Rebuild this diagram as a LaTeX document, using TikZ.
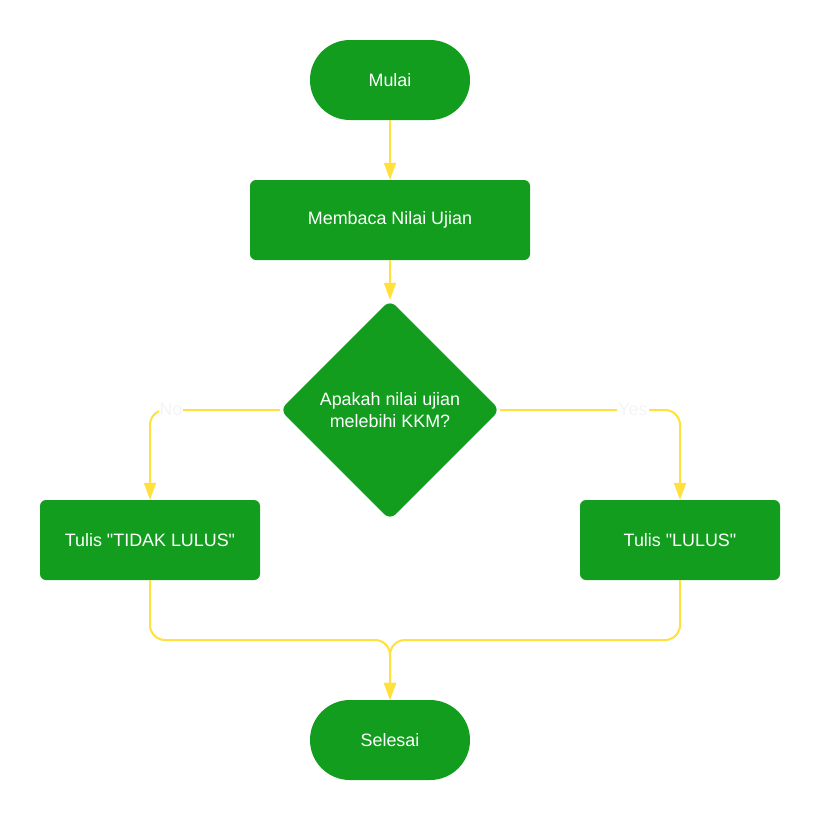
\documentclass[tikz,border=0pt]{standalone}
\usepackage{fontspec}
\setmainfont{Liberation Sans}[Ligatures=TeXOff]
\usetikzlibrary{shapes.geometric,arrows.meta}
\definecolor{fgreen}{HTML}{129D1E}
\definecolor{lyellow}{HTML}{FFE03C}
\begin{document}
\begin{tikzpicture}[x=1pt,y=-1pt,
  every node/.style={font=\fontsize{17.9}{22}\selectfont, text=white},
  box/.style={draw=none, fill=fgreen, rectangle, rounded corners=6pt, minimum height=80pt, inner sep=0pt},
  term/.style={draw=none, fill=fgreen, rectangle, rounded corners=39.9pt, minimum width=160pt, minimum height=80pt, inner sep=0pt},
  dec/.style={draw=none, fill=fgreen, diamond, rounded corners=8pt, minimum width=220pt, minimum height=220pt, inner sep=0pt, align=center},
  conn/.style={draw=lyellow, line width=2pt, rounded corners=15pt, -{Triangle[width=12pt,length=17pt]}},
  lbl/.style={fill=white, text=white!96!black, inner sep=1pt, font=\fontsize{17.9}{22}\selectfont}
]
\useasboundingbox (0,0) rectangle (820,820);
\node[term] (mulai) at (390,80) {Mulai};
\node[box, minimum width=280pt] (baca) at (390,220) {Membaca Nilai Ujian};
\node[dec] (dec) at (390,410) {Apakah nilai ujian\\melebihi KKM?};
\node[box, minimum width=220pt] (tidak) at (150,540) {Tulis "TIDAK LULUS"};
\node[box, minimum width=200pt] (lulus) at (680,540) {Tulis "LULUS"};
\node[term] (selesai) at (390,740) {Selesai};
\coordinate (join) at (390,640);

\draw[conn] (mulai) -- (baca);
\draw[conn] (baca) -- (dec);
\draw[conn] (dec.west) -| (tidak.north);
\draw[conn] (dec.east) -| (lulus.north);
\draw[conn] (tidak.south) |- (join) -- (selesai.north);
\draw[conn] (lulus.south) |- (join) -- (selesai.north);

\node[lbl] (no) at (171,409) {No};
\node[lbl] (yes) at (633,409) {Yes};
\end{tikzpicture}
\end{document}
